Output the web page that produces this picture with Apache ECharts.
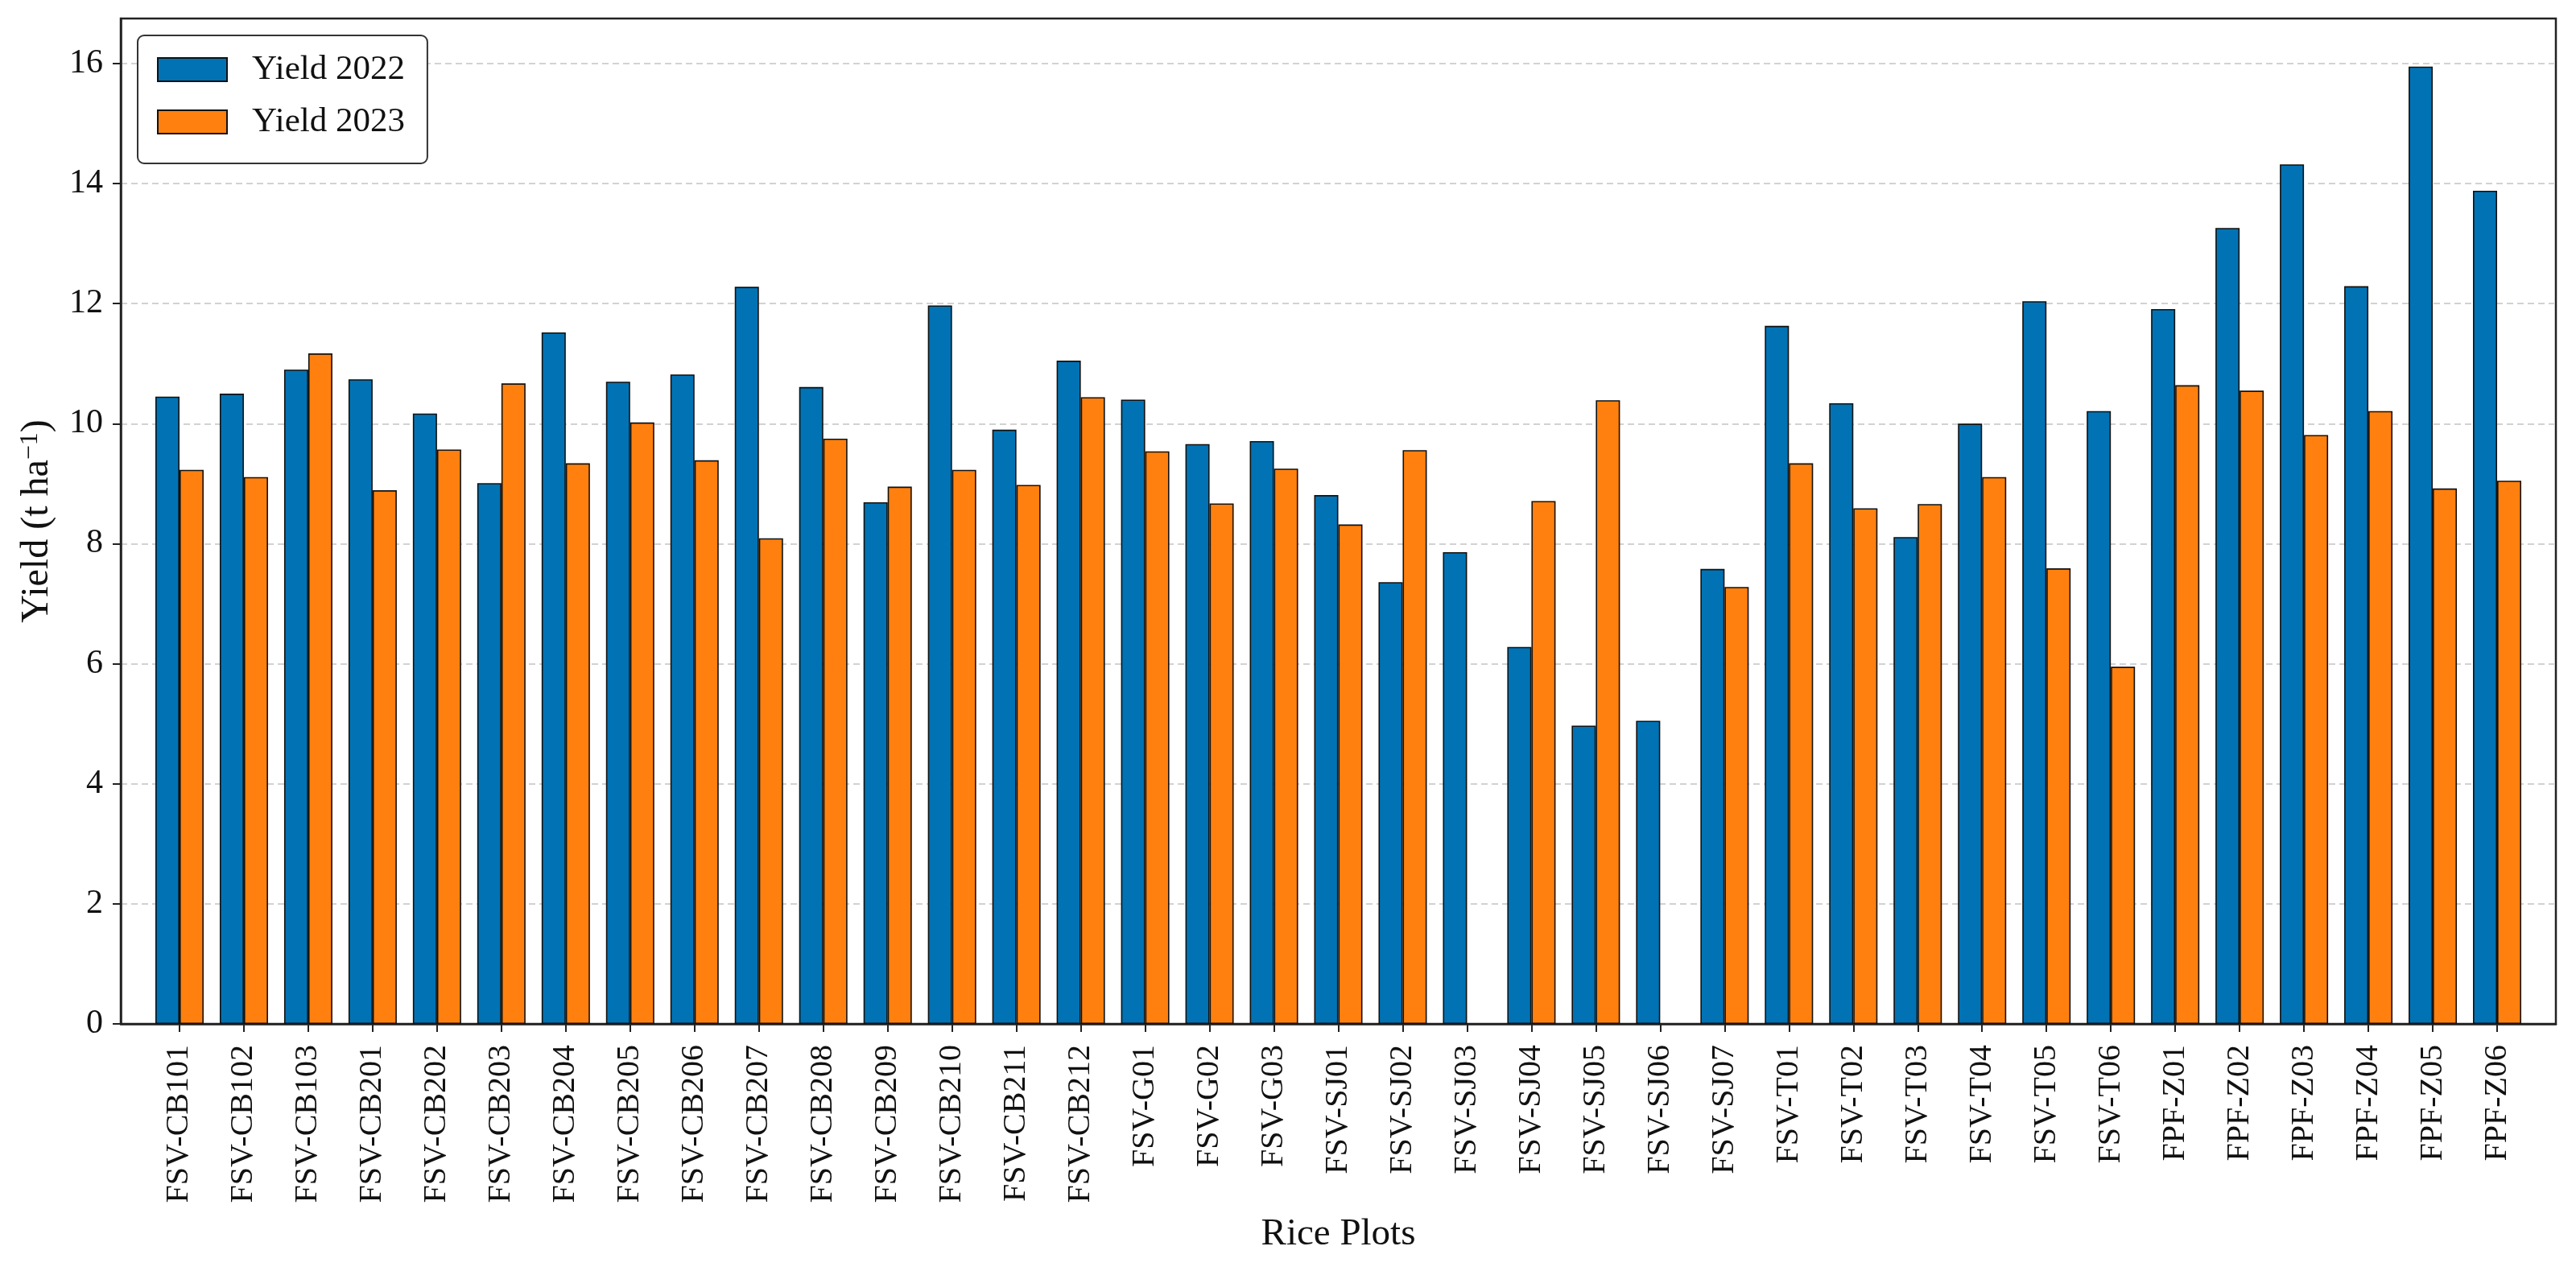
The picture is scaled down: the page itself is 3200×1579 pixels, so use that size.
<!DOCTYPE html>
<html>
<head>
<meta charset="utf-8">
<script src="https://cdn.jsdelivr.net/npm/echarts@6/dist/echarts.min.js"></script>
<style>
  html, body { margin: 0; padding: 0; background: #fff; }
  #chart { width: 3200px; height: 1579px; }
</style>
</head>
<body>
<div id="chart"></div>
<script>
const categories = [
  'FSV-CB101','FSV-CB102','FSV-CB103','FSV-CB201','FSV-CB202','FSV-CB203','FSV-CB204',
  'FSV-CB205','FSV-CB206','FSV-CB207','FSV-CB208','FSV-CB209','FSV-CB210','FSV-CB211',
  'FSV-CB212','FSV-G01','FSV-G02','FSV-G03','FSV-SJ01','FSV-SJ02','FSV-SJ03','FSV-SJ04',
  'FSV-SJ05','FSV-SJ06','FSV-SJ07','FSV-T01','FSV-T02','FSV-T03','FSV-T04','FSV-T05',
  'FSV-T06','FPF-Z01','FPF-Z02','FPF-Z03','FPF-Z04','FPF-Z05','FPF-Z06'
];
const yield2022 = [
  10.45, 10.50, 10.90, 10.74, 10.17, 9.01, 11.52,
  10.70, 10.82, 12.28, 10.61, 8.69, 11.97, 9.90,
  11.05, 10.40, 9.66, 9.71, 8.81, 7.36, 7.86, 6.28,
  4.97, 5.05, 7.58, 11.63, 10.34, 8.11, 10.00, 12.04,
  10.21, 11.91, 13.26, 14.32, 12.29, 15.95, 13.88
];
const yield2023 = [
  9.23, 9.11, 11.17, 8.89, 9.57, 10.67, 9.34,
  10.02, 9.39, 8.09, 9.75, 8.95, 9.23, 8.98,
  10.44, 9.54, 8.67, 9.25, 8.32, 9.56, null, 8.71,
  10.39, null, 7.28, 9.34, 8.59, 8.66, 9.11, 7.59,
  5.95, 10.64, 10.55, 9.81, 10.21, 8.92, 9.05
];
const yTicks = [0, 2, 4, 6, 8, 10, 12, 14, 16];
const seriesNames = ['Yield 2022', 'Yield 2023'];

const FONT = '"Liberation Serif", "Times New Roman", serif';
const chart = echarts.init(document.getElementById('chart'), null, { renderer: 'canvas' });

const barStyle = (color) => ({ color: color, borderColor: '#111', borderWidth: 1.6 });

chart.setOption({
  animation: false,
  backgroundColor: '#ffffff',
  textStyle: { fontFamily: FONT },
  grid: [
    { left: 150, right: 25, top: 23, bottom: 307, show: true, borderColor: '#222', borderWidth: 2.5, backgroundColor: 'transparent', containLabel: false },
    { left: 183, right: 58, top: 23, bottom: 307, containLabel: false }
  ],
  legend: {
    orient: 'vertical',
    left: 171, top: 44,
    padding: [21, 28, 30, 24],
    itemWidth: 86, itemHeight: 29, itemGap: 22,
    borderColor: '#333', borderWidth: 2, borderRadius: 8,
    backgroundColor: '#fff',
    icon: 'rect',
    textStyle: { fontFamily: FONT, fontSize: 43, color: '#111', padding: [0, 0, 0, 26] },
    data: seriesNames
  },
  xAxis: [
    {
      type: 'value', gridIndex: 0, min: 0, max: 1,
      axisLine: { show: true, onZero: false, lineStyle: { color: '#222', width: 2.5 } },
      axisTick: { show: false }, axisLabel: { show: false }, splitLine: { show: false }
    },
    {
      type: 'category', gridIndex: 1, data: categories,
      axisLine: { show: false },
      axisTick: { show: true, alignWithLabel: true, length: 10, lineStyle: { color: '#222', width: 2 } },
      axisLabel: { rotate: 90, fontFamily: FONT, fontSize: 40, color: '#111', margin: 26, interval: 0 },
      name: 'Rice Plots', nameLocation: 'middle', nameGap: 238,
      nameTextStyle: { fontFamily: FONT, fontSize: 47, color: '#111' }
    }
  ],
  yAxis: [
    {
      type: 'value', gridIndex: 0, min: 0, max: 16.75, interval: 2,
      axisLine: { show: true, lineStyle: { color: '#222', width: 2.5 } },
      axisTick: { show: true, length: 10, lineStyle: { color: '#222', width: 2 }, customValues: yTicks },
      axisLabel: { fontFamily: FONT, fontSize: 42, color: '#111', margin: 22, customValues: yTicks },
      splitLine: { show: true, showMinLine: false, lineStyle: { color: '#d2d2d2', width: 2, type: [8, 5] } },
      name: 'Yield (t ha{sup|−1})', nameLocation: 'middle', nameGap: 80, nameRotate: 90,
      nameTextStyle: {
        fontFamily: FONT, fontSize: 48, color: '#111',
        rich: { sup: { fontFamily: FONT, fontSize: 32, color: '#111', verticalAlign: 'top', lineHeight: 30, padding: [0, 0, 16, 0] } }
      }
    },
    { type: 'value', gridIndex: 1, min: 0, max: 16.75, show: false }
  ],
  series: [
    {
      name: seriesNames[0], type: 'bar', xAxisIndex: 1, yAxisIndex: 1,
      data: yield2022, barWidth: 30, barGap: '0%',
      itemStyle: barStyle('#0173B4')
    },
    {
      name: seriesNames[1], type: 'bar', xAxisIndex: 1, yAxisIndex: 1,
      data: yield2023, barWidth: 30, barGap: '0%',
      itemStyle: barStyle('#FF800E')
    }
  ]
});
</script>
</body>
</html>
